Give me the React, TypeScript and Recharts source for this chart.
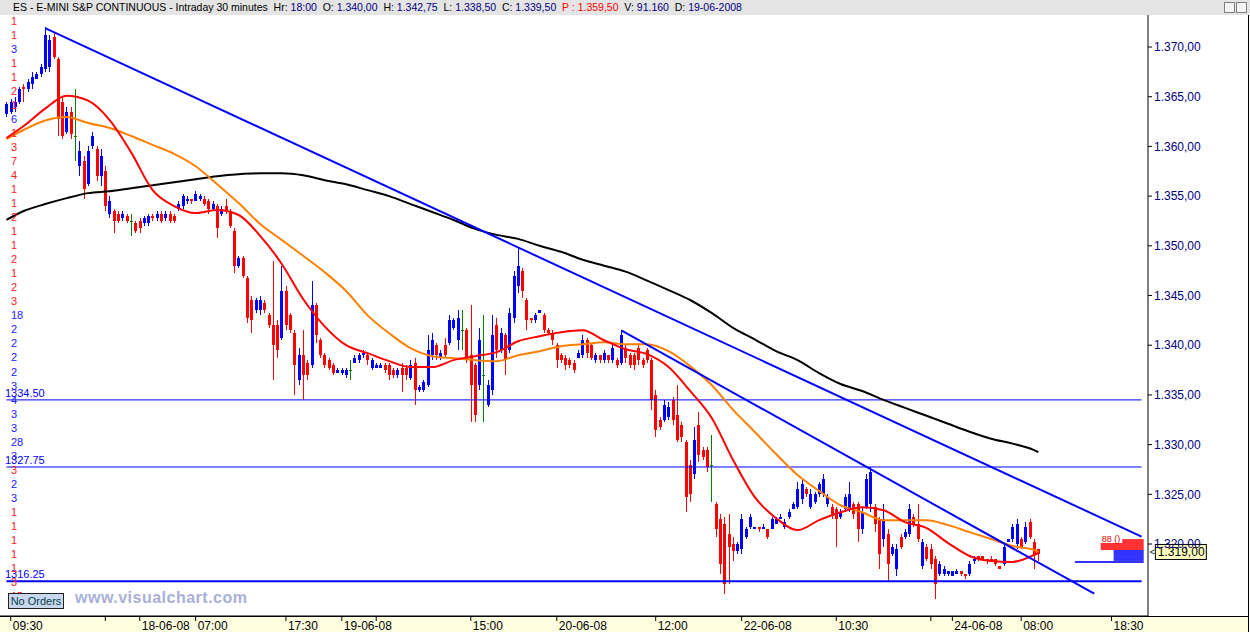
import {
  ComposedChart,
  Bar,
  Line,
  XAxis,
  YAxis,
  ReferenceLine,
  ReferenceArea,
  ReferenceDot,
} from 'recharts';

const FONT = '"Liberation Sans", Arial, sans-serif';

// 30 minute bars, first one is 17-06-2008 09:00
const barOpen = [
  1363.25, 1363.5, 1364.0, 1364.5, 1366.0, 1365.75, 1366.25, 1366.75, 1367.25, 1367.75,
  1368.0, 1371.0, 1368.75, 1364.5, 1361.5, 1363.5, 1361.0, 1358.0, 1358.5, 1356.25,
  1360.0, 1359.75, 1357.0, 1357.5, 1353.25, 1353.5, 1353.25, 1352.75, 1353.0, 1352.5,
  1352.25, 1352.5, 1352.25, 1352.25, 1353.0, 1352.75, 1353.25, 1352.75, 1353.25, 1353.0,
  1353.75, 1354.0, 1354.5, 1354.75, 1354.5, 1354.75, 1354.75, 1354.5, 1353.75, 1354.0,
  1353.25, 1354.0, 1353.5, 1351.5, 1348.0, 1348.75, 1346.75, 1344.5, 1343.5, 1343.5,
  1344.25, 1343.0, 1342.0, 1342.0, 1340.75, 1345.5, 1343.0, 1341.25, 1336.5, 1339.0,
  1338.25, 1338.0, 1344.0, 1340.5, 1339.0, 1338.5, 1338.0, 1337.25, 1337.25, 1337.0,
  1337.5, 1338.25, 1338.5, 1339.0, 1339.0, 1337.75, 1337.75, 1337.75, 1338.0, 1338.0,
  1337.5, 1337.0, 1337.75, 1337.75, 1336.75, 1338.25, 1335.5, 1335.5, 1336.0, 1339.0,
  1340.0, 1338.75, 1340.0, 1340.25, 1341.75, 1340.5, 1341.5, 1341.5, 1339.0, 1338.0,
  1336.0, 1337.0, 1334.0, 1335.5, 1342.0, 1339.5, 1341.0, 1339.5, 1342.75, 1346.0,
  1347.5, 1344.5, 1342.75, 1342.5, 1343.25, 1343.0, 1341.5, 1341.25, 1340.0, 1339.0,
  1338.75, 1338.5, 1338.25, 1338.75, 1339.0, 1340.5, 1340.0, 1338.5, 1339.0, 1338.5,
  1339.0, 1338.5, 1338.5, 1338.25, 1339.75, 1339.0, 1339.0, 1339.75, 1338.5, 1339.5,
  1338.5, 1335.0, 1332.5, 1332.5, 1332.75, 1334.5, 1333.0, 1332.0, 1330.25, 1328.0,
  1327.0, 1332.0, 1329.5, 1329.5, 1328.0, 1324.0, 1322.5, 1322.0, 1321.0, 1320.0,
  1319.25, 1319.5, 1320.75, 1321.75, 1321.5, 1321.75, 1321.5, 1321.5, 1321.5, 1322.0,
  1322.5, 1321.75, 1322.75, 1323.5, 1323.75, 1324.5, 1325.5, 1323.75, 1324.25, 1325.0,
  1325.0, 1324.0, 1323.75, 1323.5, 1322.75, 1323.5, 1323.5, 1324.0, 1324.0, 1321.5,
  1323.75, 1324.0, 1323.75, 1322.5, 1320.5, 1321.0, 1319.0, 1317.5, 1320.75, 1320.75,
  1321.0, 1322.75, 1322.0, 1317.75, 1319.75, 1319.5, 1318.5, 1317.0, 1317.0, 1317.0,
  1316.75, 1317.0, 1317.25, 1317.0, 1317.0, 1318.25, 1318.75, 1318.75, 1318.5, 1318.5,
  1318.5, 1317.75, 1318.0, 1320.25, 1320.5, 1320.0, 1320.5, 1320.25, 1322.25, 1320.25,
  1319.5,
];

const barHigh = [
  1364.5, 1364.75, 1365.0, 1366.0, 1366.25, 1366.75, 1367.5, 1367.5, 1368.25, 1372.0,
  1371.25, 1371.5, 1369.0, 1365.0, 1364.0, 1364.0, 1365.75, 1360.5, 1359.0, 1360.0,
  1361.5, 1360.0, 1359.75, 1358.0, 1355.0, 1353.75, 1353.5, 1353.5, 1353.25, 1353.25,
  1352.5, 1352.75, 1353.0, 1353.25, 1353.25, 1353.5, 1353.5, 1353.5, 1353.5, 1353.25,
  1354.5, 1355.25, 1355.0, 1354.75, 1355.5, 1355.25, 1355.0, 1354.75, 1354.5, 1354.25,
  1354.0, 1354.75, 1353.75, 1351.75, 1349.0, 1349.0, 1347.0, 1345.0, 1344.75, 1345.0,
  1344.5, 1343.25, 1348.5, 1342.5, 1348.0, 1346.0, 1343.25, 1341.5, 1339.75, 1341.5,
  1338.5, 1346.5, 1344.25, 1340.75, 1339.25, 1338.75, 1338.25, 1337.75, 1337.75, 1337.75,
  1338.5, 1339.0, 1339.25, 1339.5, 1339.25, 1338.75, 1338.25, 1338.25, 1338.25, 1338.25,
  1337.75, 1337.75, 1338.25, 1338.0, 1338.5, 1338.75, 1336.0, 1336.5, 1341.0, 1341.25,
  1340.25, 1339.5, 1340.75, 1343.0, 1342.75, 1343.5, 1343.5, 1341.75, 1344.0, 1338.25,
  1341.75, 1343.0, 1336.5, 1343.0, 1342.75, 1341.75, 1341.25, 1343.75, 1347.5, 1349.75,
  1347.75, 1344.75, 1342.75, 1343.25, 1343.5, 1343.25, 1341.75, 1341.5, 1340.25, 1339.25,
  1339.0, 1338.75, 1338.5, 1339.5, 1341.0, 1340.75, 1340.25, 1339.25, 1339.0, 1339.5,
  1339.0, 1340.25, 1338.75, 1341.5, 1340.0, 1339.25, 1339.25, 1340.25, 1338.75, 1339.75,
  1338.75, 1335.5, 1332.75, 1334.5, 1334.25, 1334.75, 1336.0, 1332.25, 1330.5, 1328.5,
  1331.75, 1333.25, 1329.75, 1329.75, 1331.0, 1324.25, 1323.0, 1322.75, 1323.0, 1320.75,
  1320.25, 1323.0, 1321.75, 1323.0, 1321.75, 1321.75, 1322.0, 1321.5, 1322.75, 1322.75,
  1323.0, 1322.5, 1323.5, 1324.25, 1326.25, 1326.5, 1325.75, 1325.5, 1325.25, 1326.25,
  1327.0, 1325.0, 1324.0, 1323.75, 1323.5, 1325.0, 1326.25, 1324.25, 1324.25, 1323.75,
  1327.0, 1327.75, 1324.0, 1322.75, 1324.0, 1321.5, 1320.0, 1320.0, 1321.0, 1321.5,
  1324.0, 1323.0, 1324.0, 1320.5, 1320.0, 1320.0, 1318.75, 1318.25, 1317.75, 1317.25,
  1317.25, 1317.5, 1317.25, 1317.0, 1318.25, 1318.75, 1318.75, 1318.75, 1318.5, 1318.75,
  1318.5, 1317.75, 1320.0, 1320.5, 1322.0, 1322.5, 1320.75, 1322.25, 1322.5, 1320.5,
  1319.5,
];

const barLow = [
  1363.0, 1363.25, 1363.5, 1364.25, 1364.5, 1365.5, 1365.75, 1366.75, 1367.0, 1367.5,
  1367.5, 1368.75, 1361.0, 1360.75, 1361.25, 1360.75, 1358.5, 1357.0, 1354.75, 1356.0,
  1359.75, 1356.5, 1356.0, 1353.5, 1352.75, 1351.25, 1352.25, 1352.5, 1352.25, 1351.0,
  1351.25, 1351.25, 1352.0, 1352.0, 1352.5, 1352.5, 1352.25, 1352.5, 1352.25, 1352.25,
  1353.5, 1353.75, 1354.25, 1354.25, 1354.5, 1354.5, 1354.0, 1353.25, 1353.5, 1350.75,
  1353.0, 1353.25, 1351.75, 1347.25, 1347.75, 1346.75, 1342.25, 1341.25, 1343.25, 1343.0,
  1343.25, 1341.75, 1336.5, 1338.75, 1340.5, 1341.5, 1341.25, 1335.0, 1336.0, 1334.5,
  1336.5, 1337.75, 1340.25, 1338.75, 1337.75, 1337.5, 1337.0, 1337.25, 1337.0, 1336.75,
  1336.5, 1338.25, 1338.25, 1338.75, 1338.0, 1337.5, 1337.75, 1337.75, 1337.25, 1336.5,
  1336.75, 1336.75, 1335.25, 1336.5, 1336.5, 1334.0, 1335.25, 1335.25, 1335.75, 1338.5,
  1338.5, 1338.5, 1338.75, 1340.0, 1341.5, 1339.5, 1339.5, 1338.25, 1332.25, 1332.25,
  1335.5, 1332.25, 1333.75, 1335.0, 1338.75, 1339.25, 1337.0, 1339.25, 1342.25, 1345.25,
  1344.75, 1341.5, 1342.25, 1342.25, 1343.25, 1341.25, 1341.0, 1340.0, 1337.75, 1338.25,
  1337.5, 1337.75, 1337.25, 1338.75, 1338.75, 1338.75, 1338.5, 1338.25, 1338.25, 1338.25,
  1338.25, 1338.25, 1337.75, 1338.0, 1338.25, 1337.75, 1337.5, 1338.0, 1337.75, 1338.25,
  1333.5, 1330.75, 1331.5, 1332.25, 1332.5, 1332.0, 1330.25, 1330.25, 1323.25, 1324.25,
  1326.5, 1328.25, 1328.5, 1327.25, 1324.25, 1320.75, 1317.0, 1315.0, 1316.0, 1318.25,
  1319.0, 1319.0, 1320.5, 1321.5, 1321.5, 1321.25, 1321.5, 1320.5, 1321.5, 1322.0,
  1322.5, 1321.5, 1322.5, 1323.5, 1323.5, 1324.0, 1324.75, 1323.5, 1324.0, 1324.75,
  1324.75, 1323.75, 1322.5, 1319.75, 1322.5, 1323.25, 1323.25, 1322.5, 1320.25, 1321.0,
  1323.5, 1323.25, 1321.25, 1317.5, 1319.75, 1316.25, 1318.75, 1316.75, 1319.5, 1320.5,
  1320.75, 1321.75, 1320.25, 1317.5, 1318.25, 1317.5, 1314.5, 1316.75, 1316.75, 1316.75,
  1316.75, 1317.0, 1316.75, 1316.5, 1316.75, 1318.0, 1318.25, 1318.25, 1318.0, 1318.25,
  1317.75, 1317.5, 1317.75, 1320.25, 1320.25, 1319.5, 1319.5, 1320.0, 1320.5, 1317.5,
  1318.25,
];

const barClose = [
  1364.25, 1364.5, 1364.5, 1365.75, 1365.75, 1366.5, 1367.0, 1367.25, 1368.0, 1371.25,
  1370.75, 1369.0, 1362.75, 1361.0, 1363.5, 1361.25, 1361.0, 1359.5, 1355.75, 1359.5,
  1361.0, 1357.0, 1359.0, 1354.0, 1354.5, 1352.5, 1352.5, 1353.25, 1352.5, 1352.5,
  1351.5, 1351.75, 1352.75, 1353.0, 1352.75, 1353.25, 1352.5, 1353.25, 1352.5, 1352.5,
  1354.25, 1355.0, 1354.75, 1354.5, 1355.25, 1355.0, 1354.25, 1353.75, 1354.25, 1351.75,
  1353.75, 1353.5, 1352.0, 1348.0, 1348.75, 1347.0, 1342.75, 1342.5, 1344.5, 1344.5,
  1343.5, 1342.0, 1340.0, 1339.5, 1345.5, 1342.0, 1341.5, 1338.0, 1339.0, 1337.0,
  1337.0, 1344.0, 1341.0, 1339.0, 1338.0, 1337.75, 1337.25, 1337.5, 1337.5, 1337.5,
  1337.5, 1338.75, 1339.0, 1339.25, 1338.5, 1338.5, 1338.0, 1338.0, 1337.5, 1337.0,
  1337.0, 1337.5, 1337.0, 1337.0, 1338.0, 1335.5, 1335.75, 1336.25, 1339.5, 1340.5,
  1339.0, 1339.25, 1339.0, 1342.5, 1342.5, 1342.75, 1341.5, 1338.5, 1336.0, 1333.0,
  1340.5, 1337.0, 1336.0, 1341.0, 1339.5, 1341.25, 1338.5, 1343.25, 1347.0, 1348.0,
  1345.5, 1342.5, 1342.5, 1343.0, 1343.5, 1341.5, 1341.25, 1340.5, 1338.5, 1338.5,
  1338.0, 1338.0, 1337.5, 1339.25, 1340.5, 1339.25, 1338.75, 1339.0, 1338.5, 1339.25,
  1338.5, 1339.75, 1338.0, 1341.0, 1338.75, 1338.0, 1338.0, 1338.5, 1338.0, 1338.5,
  1334.5, 1331.5, 1331.75, 1334.0, 1333.75, 1332.5, 1330.5, 1330.75, 1324.75, 1325.0,
  1330.5, 1329.0, 1328.75, 1327.75, 1328.0, 1321.5, 1318.0, 1316.0, 1319.75, 1319.25,
  1320.0, 1322.5, 1321.5, 1322.75, 1321.75, 1321.5, 1321.75, 1320.75, 1322.5, 1322.5,
  1322.75, 1322.25, 1323.25, 1324.0, 1325.5, 1326.0, 1325.0, 1325.0, 1325.0, 1326.0,
  1326.5, 1324.75, 1323.0, 1322.5, 1323.25, 1324.75, 1325.0, 1323.0, 1321.5, 1323.25,
  1326.5, 1327.25, 1322.0, 1319.0, 1322.5, 1318.0, 1319.75, 1319.5, 1319.75, 1321.25,
  1323.5, 1322.0, 1320.5, 1320.25, 1318.5, 1318.0, 1316.0, 1318.0, 1317.5, 1317.25,
  1317.25, 1317.25, 1317.0, 1316.75, 1318.0, 1318.5, 1318.5, 1318.5, 1318.25, 1318.25,
  1318.0, 1317.5, 1319.75, 1320.5, 1321.75, 1322.0, 1319.75, 1321.75, 1320.75, 1319.0,
  1319.0,
];

// moving averages at these slots
const maSlots = [
  1, 5, 10, 15, 20, 25, 30, 35, 40, 45, 50, 55, 60, 65, 70, 75, 80, 85, 90, 95,
  100, 105, 110, 115, 120, 125, 130, 135, 140, 145, 150, 155, 160, 165, 170, 175, 180, 185, 190, 195,
  200, 205, 210, 215, 220, 225, 230, 235, 240, 241,
];
const maFast = [
  1360.85, 1362.05, 1363.8, 1365.1, 1364.6, 1362.65, 1359.4, 1355.6, 1354.0, 1353.3,
  1353.6, 1353.1, 1351.0, 1348.2, 1344.65, 1341.9, 1340.0, 1339.2, 1338.4, 1337.8,
  1337.8, 1338.5, 1338.9, 1339.3, 1340.4, 1340.9, 1341.3, 1341.5, 1340.5, 1339.6,
  1339.1, 1337.8, 1335.4, 1332.7, 1328.45, 1324.75, 1322.6, 1321.4, 1322.4, 1323.2,
  1323.7, 1323.4, 1322.2, 1321.6, 1320.1, 1318.8, 1318.3, 1318.2, 1318.9, 1319.1,
];
const maSlow = [
  1360.75, 1361.65, 1362.6, 1362.95, 1362.35, 1361.85, 1361.05, 1360.15, 1359.25, 1358.0,
  1356.2, 1354.3, 1352.2, 1350.6, 1349.0, 1347.35, 1345.45, 1343.0, 1341.2, 1339.7,
  1338.9, 1338.7, 1338.5, 1338.4, 1339.0, 1339.4, 1339.9, 1340.1, 1340.3, 1340.1,
  1340.1, 1339.4, 1337.9, 1336.0, 1333.5, 1331.3, 1329.05, 1326.95, 1325.35, 1323.9,
  1323.2, 1322.4, 1322.4, 1322.4, 1321.9, 1321.2, 1320.5, 1319.8, 1319.4, 1319.2,
];
const maLong = [
  1352.6, 1353.5, 1354.2, 1354.8, 1355.3, 1355.5, 1355.8, 1356.1, 1356.4, 1356.7,
  1357.0, 1357.2, 1357.3, 1357.3, 1357.1, 1356.6, 1356.2, 1355.6, 1355.0, 1354.2,
  1353.4, 1352.6, 1351.7, 1351.1, 1350.7, 1350.0, 1349.4, 1348.6, 1348.0, 1347.4,
  1346.5, 1345.55, 1344.55, 1343.25, 1341.75, 1340.6, 1339.4, 1338.5, 1337.2, 1336.1,
  1335.4, 1334.5, 1333.7, 1332.9, 1332.1, 1331.3, 1330.6, 1330.1, 1329.45, 1329.25,
];

// time axis
const tickSlots = [2, 24, 32, 45, 66, 79, 87, 109, 129, 152, 172, 194, 216, 221, 237, 258];
const tickLabels = [
  '09:30', '', '18-06-08', '07:00', '17:30', '19-06-08', '', '15:00',
  '20-06-08', '12:00', '22-06-08', '10:30', '', '24-06-08', '08:00', '18:30',
];

const priceTicks = [1320, 1325, 1330, 1335, 1340, 1345, 1350, 1355, 1360, 1365, 1370];
const levels = [1334.5, 1327.75, 1316.25];

// drawn trend lines [slot, price]
const trendA = [[10, 1371.9], [265, 1320.75]];
const trendB = [[144, 1341.5], [254, 1315.0]];

// order book depth
const askDepth = [
  { from: 261, to: 265, lo: 1320.1, hi: 1320.5 },
  { from: 256, to: 265, lo: 1319.4, hi: 1320.1 },
];
const bidDepth = [
  { from: 259, to: 265, lo: 1318.7, hi: 1319.4 },
  { from: 259, to: 265, lo: 1318.3, hi: 1318.7 },
  { from: 250, to: 265, lo: 1318.1, hi: 1318.3 },
];

// volume ladder on the left edge
const ladderText = [
  '1', '1', '3', '1', '1', '2', '1', '6', '1', '3', '7', '4', '1', '1', '2', '1', '1', '2', '1', '2', '3',
  '18', '2', '2', '2', '2', '3', '4', '3', '3', '28', '3', '3', '2', '3', '1', '1', '1', '1', '1', '3', '15',
];
const ladderSide = 'ssbssssbsssssssssssssbbbbbbbbbbbsbbssssss'.split('').concat(['s']);

const SLOTS = 267;
const FIRST = 1;

const rows = Array.from({ length: SLOTS }, (_, k) => {
  const i = k - FIRST;
  const m = maSlots.indexOf(k);
  return {
    k,
    open: barOpen[i] ?? null,
    high: barHigh[i] ?? null,
    low: barLow[i] ?? null,
    close: barClose[i] ?? null,
    maFast: m >= 0 ? maFast[m] : null,
    maSlow: m >= 0 ? maSlow[m] : null,
    maLong: m >= 0 ? maLong[m] : null,
  };
});

const fmtPrice = (v: number) => {
  const [int, dec] = v.toFixed(2).split('.');
  return int.replace(/\B(?=(\d{3})+(?!\d))/g, '.') + ',' + dec;
};

function Candle(props: any) {
  const { x, y, width, height, payload } = props;
  if (!payload || payload.high == null) return <g />;
  const { open, high, low, close } = payload;
  const span = high - low;
  const toY = (v: number) => (span > 0 ? y + ((high - v) / span) * height : y);
  const cx = Math.round(x + width / 2);
  const color = close > open ? '#0000ff' : close < open ? '#ff0000' : '#008000';
  const top = Math.min(toY(open), toY(close));
  const bh = Math.max(1, Math.abs(toY(open) - toY(close)));
  return (
    <g shapeRendering="crispEdges">
      <rect x={cx} y={y} width={1} height={Math.max(1, height)} fill={color} />
      <rect x={cx - 1} y={top} width={3} height={bh} fill={color} />
    </g>
  );
}

function TimeTick(props: any) {
  const { x, y, payload } = props;
  const idx = tickSlots.indexOf(payload.value);
  if (idx < 0) return <g />;
  return (
    <g>
      <line x1={x} x2={x} y1={y} y2={y + 5} stroke="#000" />
      {tickLabels[idx] && (
        <text x={x + 2} y={y + 14} fontSize={12} fontFamily={FONT} fill="#000">
          {tickLabels[idx]}
        </text>
      )}
    </g>
  );
}

function LevelLabel(props: any) {
  const { viewBox, text } = props;
  return (
    <text x={viewBox.x - 1.5} y={viewBox.y - 3} fontSize={11} fontFamily={FONT} fill="#0000ff">
      {text}
    </text>
  );
}

function PriceTag(props: any) {
  const { cx, cy } = props;
  return (
    <g>
      <text x={cx + 4} y={cy + 1} fontSize={9} fontFamily={FONT} fill="#000">
        {'<'}
      </text>
      <rect x={cx + 9.5} y={cy - 9.5} width={51} height={15} fill="#ffffc0" stroke="#000" />
      <text x={cx + 12} y={cy + 2} fontSize={12} fontFamily={FONT} fill="#000">
        {fmtPrice(barClose[barClose.length - 1])}
      </text>
    </g>
  );
}

function BookLabel(props: any) {
  const { viewBox } = props;
  return (
    <text x={viewBox.x + 1} y={viewBox.y - 1} fontSize={9} fontFamily={FONT} fill="#e00000">
      88 ()
    </text>
  );
}

export default function App() {
  return (
    <div
      style={{
        position: 'relative',
        width: 1250,
        height: 632,
        background: '#fff',
        overflow: 'hidden',
        fontFamily: FONT,
      }}
    >
      <style>{'body{margin:0}'}</style>

      {/* time strip */}
      <div
        style={{
          position: 'absolute',
          left: 0,
          top: 616,
          width: 1248,
          height: 16,
          background: '#ffffe1',
          borderTop: '1px solid #000',
          boxSizing: 'border-box',
        }}
      />

      {/* Chart */}
      <div style={{ position: 'absolute', left: 0, top: 15 }}>
        <ComposedChart width={1250} height={617} data={rows} margin={{ top: 0, right: 0, bottom: 0, left: 0 }}>
          <XAxis
            dataKey="k"
            type="category"
            interval={0}
            height={16}
            tickSize={0}
            tickMargin={0}
            tickLine={false}
            axisLine={{ stroke: '#000' }}
            tick={<TimeTick />}
          />
          <YAxis
            orientation="right"
            width={102}
            domain={[1312.76, 1373.22]}
            allowDataOverflow
            ticks={priceTicks}
            interval={0}
            tickSize={4}
            tickFormatter={fmtPrice}
            axisLine={{ stroke: '#000' }}
            tickLine={{ stroke: '#000' }}
            tick={{ fill: '#000080', fontSize: 12, fontFamily: FONT }}
          />

          {levels.map((v, i) => (
            <ReferenceLine
              key={v}
              segment={[{ x: 1, y: v }, { x: 265, y: v }]}
              stroke="#0000ff"
              strokeWidth={i === levels.length - 1 ? 2 : 1}
              label={<LevelLabel text={v.toFixed(2)} />}
            />
          ))}

          {askDepth.map((d, i) => (
            <ReferenceArea
              key={'a' + i}
              x1={d.from}
              x2={d.to}
              y1={d.lo}
              y2={d.hi}
              fill="#ff3333"
              fillOpacity={1}
              stroke="none"
              label={i === 1 ? <BookLabel /> : undefined}
            />
          ))}
          {bidDepth.map((d, i) => (
            <ReferenceArea
              key={'b' + i}
              x1={d.from}
              x2={d.to}
              y1={d.lo}
              y2={d.hi}
              fill="#3333ff"
              fillOpacity={1}
              stroke="none"
            />
          ))}

          <Bar
            dataKey={(d: any) => (d.high == null ? null : [d.low, d.high])}
            shape={<Candle />}
            isAnimationActive={false}
          />

          <Line dataKey="maLong" stroke="#000" strokeWidth={2} dot={false} connectNulls type="monotone" isAnimationActive={false} />
          <Line dataKey="maSlow" stroke="#ff8000" strokeWidth={2} dot={false} connectNulls type="monotone" isAnimationActive={false} />
          <Line dataKey="maFast" stroke="#ff0000" strokeWidth={2} dot={false} connectNulls type="monotone" isAnimationActive={false} />

          <ReferenceLine
            segment={[{ x: trendA[0][0], y: trendA[0][1] }, { x: trendA[1][0], y: trendA[1][1] }]}
            stroke="#0000ff"
            strokeWidth={2}
          />
          <ReferenceLine
            segment={[{ x: trendB[0][0], y: trendB[0][1] }, { x: trendB[1][0], y: trendB[1][1] }]}
            stroke="#0000ff"
            strokeWidth={2}
          />

          <ReferenceDot
            x={266}
            y={barClose[barClose.length - 1]}
            r={0}
            shape={<PriceTag />}
          />
        </ComposedChart>
      </div>

      {/* volume ladder */}
      {ladderText.map((t, i) => (
        <div
          key={i}
          style={{
            position: 'absolute',
            left: 11,
            top: 21 + 14.02 * i - 7,
            height: 14,
            lineHeight: '14px',
            fontSize: 11,
            color: ladderSide[i] === 'b' ? '#2020ff' : '#ff2020',
          }}
        >
          {t}
        </div>
      ))}

      {/* header */}
      <div
        style={{
          position: 'absolute',
          left: 0,
          top: 0,
          width: 1250,
          height: 15,
          background: '#e4e4e4',
          fontSize: 10.5,
          lineHeight: '15px',
          whiteSpace: 'pre',
          color: '#000',
        }}
      >
        <span style={{ position: 'absolute', left: 13 }}>
          {'ES - E-MINI S&P CONTINUOUS - Intraday 30 minutes  Hr: '}
          <span style={{ color: '#000080' }}>18:00</span>
          {'  O: '}
          <span style={{ color: '#000080' }}>1.340,00</span>
          {'  H: '}
          <span style={{ color: '#000080' }}>1.342,75</span>
          {'  L: '}
          <span style={{ color: '#000080' }}>1.338,50</span>
          {'  C: '}
          <span style={{ color: '#000080' }}>1.339,50</span>
          {'  '}
          <span style={{ color: '#ff0000' }}>P : 1.359,50</span>
          {'  V: '}
          <span style={{ color: '#000080' }}>91.160</span>
          {'  D: '}
          <span style={{ color: '#000080' }}>19-06-2008</span>
        </span>
        <div
          style={{
            position: 'absolute',
            left: 1224,
            top: 2,
            width: 9,
            height: 9,
            border: '1px solid #808080',
            background: '#f4f4f4',
          }}
        />
        <div
          style={{
            position: 'absolute',
            left: 1236,
            top: 2,
            width: 9,
            height: 9,
            border: '1px solid #808080',
            background: '#f4f4f4',
          }}
        />
      </div>

      {/* right frame */}
      <div style={{ position: 'absolute', left: 1248, top: 15, width: 1, height: 617, background: '#000' }} />

      {/* order status + watermark */}
      <div
        style={{
          position: 'absolute',
          left: 8,
          top: 593,
          width: 54,
          height: 14,
          border: '1px solid #202020',
          background: '#c8d6ee',
          fontSize: 11,
          lineHeight: '14px',
          color: '#0a3d4a',
          textAlign: 'center',
        }}
      >
        No Orders
      </div>
      <div
        style={{
          position: 'absolute',
          left: 75,
          top: 589,
          fontSize: 16,
          letterSpacing: 0.5,
          fontWeight: 'bold',
          color: '#a8b0d8',
          lineHeight: '18px',
        }}
      >
        www.visualchart.com
      </div>
    </div>
  );
}
